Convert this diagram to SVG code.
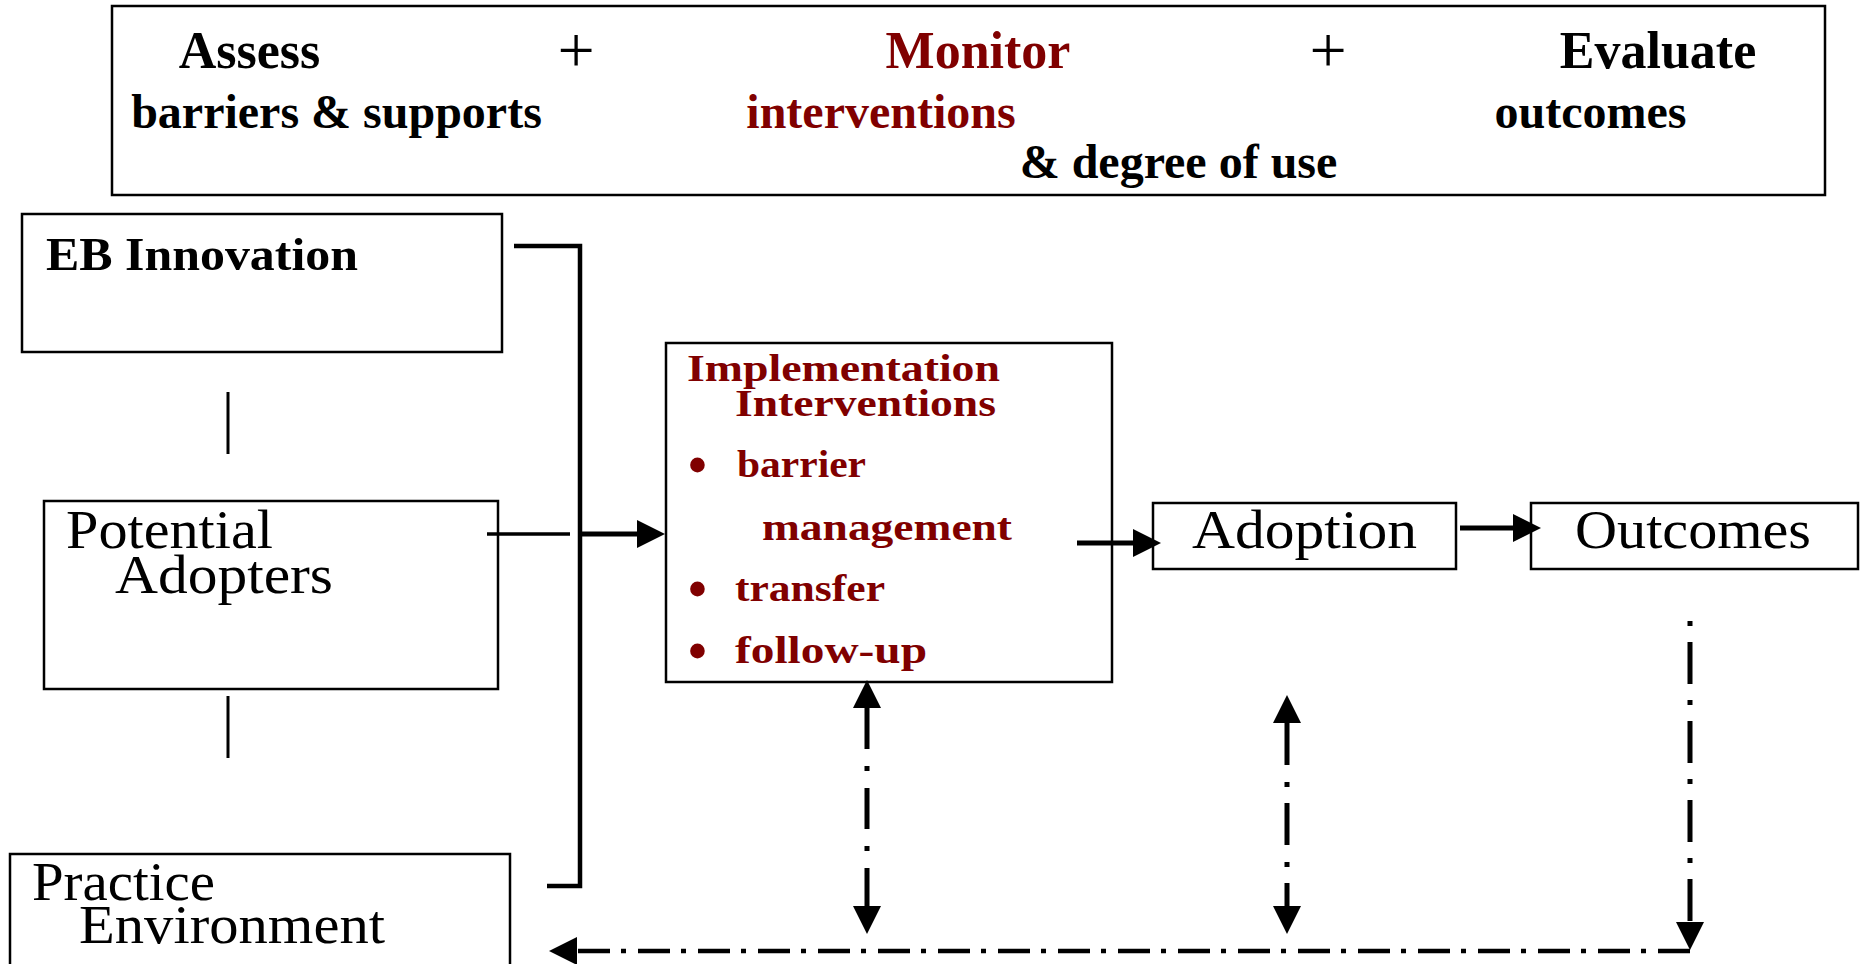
<svg xmlns="http://www.w3.org/2000/svg" width="1864" height="964" viewBox="0 0 1864 964">
  <style>
    .box { fill: #ffffff; stroke: #000000; stroke-width: 2.5; }
    .hdr { font-family: "Liberation Serif", "Times New Roman", serif; font-weight: bold; fill: #000000; }
    .red { fill: #800000; }
    .plus { font-family: "Liberation Serif", "Times New Roman", serif; font-size: 66px; fill: #000000; }
    .lbl { font-family: "Liberation Serif", "Times New Roman", serif; font-size: 54px; fill: #000000; }
    .lblb { font-family: "Liberation Serif", "Times New Roman", serif; font-size: 47px; font-weight: bold; fill: #000000; }
    .iv { font-family: "Liberation Serif", "Times New Roman", serif; font-size: 38px; font-weight: bold; fill: #800000; }
    .bul { font-family: "Liberation Serif", "Times New Roman", serif; font-size: 54px; font-weight: bold; fill: #800000; }
    .solid { fill: none; stroke: #000000; }
    .dashv { fill: none; stroke: #000000; stroke-width: 5; }
    .dashh { fill: none; stroke: #000000; stroke-width: 4.5; }
  </style>
  <defs>
    <marker id="ah" viewBox="0 0 28 28" refX="0" refY="14" markerWidth="28" markerHeight="28" markerUnits="userSpaceOnUse" orient="auto-start-reverse">
      <path d="M0,0 L28,14 L0,28 z" fill="#000000"/>
    </marker>
  </defs>

  <rect width="1864" height="964" fill="#ffffff"/>

  <!-- header: assess / monitor / evaluate -->
  <g id="header">
    <rect class="box" x="112" y="6" width="1713" height="189"/>
    <text class="hdr" x="249.5" y="68" font-size="52" text-anchor="middle">Assess</text>
    <text class="hdr" x="336.5" y="128" font-size="48" text-anchor="middle">barriers &amp; supports</text>
    <text class="plus" x="576" y="72" text-anchor="middle">+</text>
    <text class="hdr red" x="978" y="68" font-size="52" text-anchor="middle">Monitor</text>
    <text class="hdr red" x="881" y="128" font-size="48" text-anchor="middle">interventions</text>
    <text class="hdr" x="1178.5" y="178" font-size="48" text-anchor="middle">&amp; degree of use</text>
    <text class="plus" x="1328" y="72" text-anchor="middle">+</text>
    <text class="hdr" x="1658" y="68" font-size="52" text-anchor="middle">Evaluate</text>
    <text class="hdr" x="1590.5" y="128" font-size="48" text-anchor="middle">outcomes</text>
  </g>

  <g id="eb-innovation">
    <rect class="box" x="22" y="214" width="480" height="138"/>
    <text class="lblb" x="46" y="270" textLength="312" lengthAdjust="spacingAndGlyphs">EB Innovation</text>
  </g>

  <g id="potential-adopters">
    <rect class="box" x="44" y="501" width="454" height="188"/>
    <text class="lbl" x="66" y="548" textLength="207" lengthAdjust="spacingAndGlyphs">Potential</text>
    <text class="lbl" x="115" y="593" textLength="218" lengthAdjust="spacingAndGlyphs">Adopters</text>
  </g>

  <g id="practice-environment">
    <rect class="box" x="10" y="854" width="500" height="130"/>
    <text class="lbl" x="32" y="900" textLength="183" lengthAdjust="spacingAndGlyphs">Practice</text>
    <text class="lbl" x="79" y="943" textLength="306" lengthAdjust="spacingAndGlyphs">Environment</text>
  </g>

  <g id="implementation-interventions">
    <rect class="box" x="666" y="343" width="446" height="339"/>
    <text class="iv" x="687" y="381" textLength="313" lengthAdjust="spacingAndGlyphs">Implementation</text>
    <text class="iv" x="735" y="416" textLength="261" lengthAdjust="spacingAndGlyphs">Interventions</text>
    <text class="bul" x="688" y="483">•</text>
    <text class="iv" x="737" y="477" textLength="129" lengthAdjust="spacingAndGlyphs">barrier</text>
    <text class="iv" x="762" y="540" textLength="250" lengthAdjust="spacingAndGlyphs">management</text>
    <text class="bul" x="688" y="607">•</text>
    <text class="iv" x="735" y="601" textLength="150" lengthAdjust="spacingAndGlyphs">transfer</text>
    <text class="bul" x="688" y="669">•</text>
    <text class="iv" x="735" y="663" textLength="192" lengthAdjust="spacingAndGlyphs">follow-up</text>
  </g>

  <g id="adoption">
    <rect class="box" x="1153" y="503" width="303" height="66"/>
    <text class="lbl" x="1192" y="548" textLength="225" lengthAdjust="spacingAndGlyphs">Adoption</text>
  </g>

  <g id="outcomes">
    <rect class="box" x="1531" y="503" width="327" height="66"/>
    <text class="lbl" x="1575" y="548" textLength="236" lengthAdjust="spacingAndGlyphs">Outcomes</text>
  </g>

  <g id="connectors">
    <!-- links between the three left-hand factors -->
    <path class="solid" stroke-width="3" d="M228,392 V454"/>
    <path class="solid" stroke-width="3" d="M228,696 V758"/>
    <!-- bracket gathering the factors -->
    <path class="solid" stroke-width="4.5" d="M514,246 H580 V886 H547"/>
    <path class="solid" stroke-width="3.5" d="M487,534 H570"/>
    <path class="solid" stroke-width="5" d="M582,534 H637" marker-end="url(#ah)"/>
    <!-- main flow -->
    <path class="solid" stroke-width="5" d="M1077,543 H1133" marker-end="url(#ah)"/>
    <path class="solid" stroke-width="5" d="M1460,528 H1513" marker-end="url(#ah)"/>
    <!-- monitoring / feedback lines -->
    <path class="dashv" d="M867,708 V906" stroke-dasharray="41 17 5 17" marker-start="url(#ah)" marker-end="url(#ah)"/>
    <path class="dashv" d="M1287,723 V906" stroke-dasharray="42 17 5 16" marker-start="url(#ah)" marker-end="url(#ah)"/>
    <path class="dashv" d="M1690,621 V922" stroke-dasharray="5 16 42 16" marker-end="url(#ah)"/>
    <path class="dashh" d="M1690,951 H577" stroke-dasharray="32 12 5 11" marker-end="url(#ah)"/>
  </g>
</svg>
